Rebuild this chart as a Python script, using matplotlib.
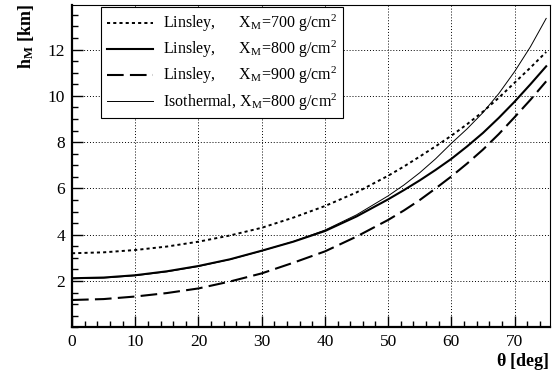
import numpy as np
import matplotlib
matplotlib.use("Agg")
import matplotlib.pyplot as plt
from matplotlib.ticker import MultipleLocator

plt.rcParams['font.family'] = ['Liberation Serif', 'DejaVu Serif']
plt.rcParams['mathtext.fontset'] = 'custom'
plt.rcParams['mathtext.rm'] = 'Liberation Serif'
plt.rcParams['mathtext.it'] = 'Liberation Serif'
plt.rcParams['mathtext.bf'] = 'Liberation Serif:bold'

# zenith angle [deg]
theta = [0, 5, 10, 15, 20, 25, 30, 35, 40, 45, 50, 52.5, 55, 57.5,
         60, 62.5, 65, 67.5, 70, 72.5, 75]

# height of shower maximum [km]
h_lin700 = [3.20, 3.24, 3.34, 3.49, 3.70, 3.97, 4.30, 4.74, 5.24, 5.83, 6.55,
            6.95, 7.38, 7.82, 8.28, 8.78, 9.32, 9.92, 10.57, 11.22, 11.90]
h_lin800 = [2.12, 2.15, 2.25, 2.42, 2.65, 2.94, 3.31, 3.70, 4.16, 4.79, 5.53,
            5.93, 6.35, 6.80, 7.28, 7.82, 8.40, 9.05, 9.75, 10.50, 11.28]
h_lin900 = [1.18, 1.22, 1.33, 1.48, 1.68, 1.98, 2.33, 2.79, 3.28, 3.92, 4.64,
            5.05, 5.50, 6.00, 6.52, 7.08, 7.68, 8.35, 9.08, 9.83, 10.63]
h_iso800 = [2.10, 2.13, 2.23, 2.40, 2.63, 2.93, 3.30, 3.71, 4.20, 4.86, 5.68,
            6.15, 6.68, 7.28, 7.95, 8.58, 9.28, 10.10, 11.05, 12.12, 13.35]

labels = [r'Linsley,      $\mathrm{X_M}$=700 g/cm$^2$',
          r'Linsley,      $\mathrm{X_M}$=800 g/cm$^2$',
          r'Linsley,      $\mathrm{X_M}$=900 g/cm$^2$',
          r'Isothermal, $\mathrm{X_M}$=800 g/cm$^2$']

fig = plt.figure(figsize=(5.57, 3.70), dpi=100)
ax = fig.add_axes([0.1293, 0.1154, 0.8581, 0.8724])

l1, = ax.plot(theta, h_lin700, color='black', lw=1.4, ls=(0, (1.6, 1.6)))
l2, = ax.plot(theta, h_lin800, color='black', lw=1.5, ls='-')
l3, = ax.plot(theta, h_lin900, color='black', lw=1.5, ls=(0, (8, 3)))
l4, = ax.plot(theta, h_iso800, color='black', lw=0.7, ls='-')

ax.set_xlim(0, 75.6)
ax.set_ylim(0, 13.95)
ax.set_yticks([2, 4, 6, 8, 10, 12])
ax.xaxis.set_major_locator(MultipleLocator(10))
ax.xaxis.set_minor_locator(MultipleLocator(2))
ax.yaxis.set_minor_locator(MultipleLocator(0.5))
ax.tick_params(which='both', direction='in', top=False, right=False,
               labelsize=12.5, width=1.0, colors='black')
ax.tick_params(which='major', length=8, pad=5)
ax.tick_params(which='minor', length=4.5)

ax.grid(which='major', color='black', ls=(0, (1, 2)), lw=0.7)

for s in ['left', 'bottom']:
    ax.spines[s].set_linewidth(1.6)
for s in ['top', 'right']:
    ax.spines[s].set_linewidth(0.8)

ax.set_ylabel(r'$\mathbf{h_M}$ [km]', fontsize=13, fontweight='bold', loc='top')
ax.yaxis.set_label_coords(-0.075, 1.0)
ax.set_xlabel(r'$\mathbf{\theta}$ [deg]', fontsize=13, fontweight='bold', loc='right')
ax.xaxis.set_label_coords(1.0, -0.072)

leg = ax.legend([l1, l2, l3, l4], labels, loc='upper left',
                bbox_to_anchor=(0.061, 0.991), fontsize=11.5, frameon=True,
                fancybox=False, edgecolor='black', framealpha=1,
                borderaxespad=0, handlelength=2.9, handletextpad=0.6,
                labelspacing=0.3, borderpad=0.35)
leg.get_frame().set_linewidth(0.8)

fig.savefig('out.png', dpi=100)
